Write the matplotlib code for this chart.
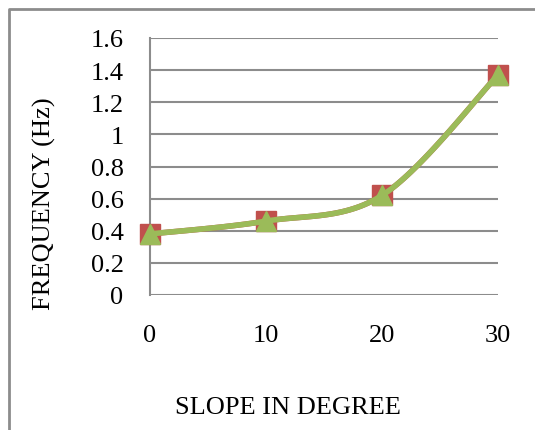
import numpy as np
import matplotlib
matplotlib.use("Agg")
from matplotlib import pyplot as plt
from matplotlib.lines import Line2D

slope = [0, 10, 20, 30]
freq_a = [0.38, 0.46, 0.62, 1.37]
freq_b = [0.38, 0.46, 0.62, 1.37]
yticks = [0, 0.2, 0.4, 0.6, 0.8, 1, 1.2, 1.4, 1.6]
ytick_labels = ['0', '0.2', '0.4', '0.6', '0.8', '1', '1.2', '1.4', '1.6']

def smooth(x, y, n=40):
    # excel style smoothing: catmull-rom bezier between the points
    x = np.asarray(x, float)
    y = np.asarray(y, float)
    px = np.concatenate([[x[0]], x, [x[-1]]])
    py = np.concatenate([[y[0]], y, [y[-1]]])
    xs, ys = [], []
    t = np.linspace(0, 1, n)
    for i in range(1, len(px) - 2):
        p0 = np.array([px[i], py[i]])
        p3 = np.array([px[i + 1], py[i + 1]])
        p1 = p0 + (np.array([px[i + 1], py[i + 1]]) - np.array([px[i - 1], py[i - 1]])) / 6
        p2 = p3 - (np.array([px[i + 2], py[i + 2]]) - np.array([px[i], py[i]])) / 6
        b = ((1 - t) ** 3)[:, None] * p0 + (3 * (1 - t) ** 2 * t)[:, None] * p1 \
            + (3 * (1 - t) * t ** 2)[:, None] * p2 + (t ** 3)[:, None] * p3
        xs.extend(b[:, 0])
        ys.extend(b[:, 1])
    return xs, ys

plt.rcParams['font.family'] = ['Liberation Serif', 'DejaVu Serif']
fs = 19

fig = plt.figure(figsize=(5.35, 4.31), dpi=100)
# chart border, only top and left edges are inside the picture
bx, by = 8.5 / 535, 1 - 9.5 / 431
fig.lines.append(Line2D([bx, bx, 1.1], [-0.1, by, by], transform=fig.transFigure,
                        color='#8c8c8c', linewidth=2))
ax = fig.add_axes([150 / 535, 135 / 431, 348 / 535, 257 / 431])

sx, sy = smooth(slope, freq_a)
ax.plot(sx, sy, color='#c0504d', linewidth=4, zorder=3, clip_on=False)
ax.plot(slope, freq_a, 's', color='#c0504d', markersize=14.5, zorder=4, clip_on=False)
sx, sy = smooth(slope, freq_b)
ax.plot(sx, sy, color='#9bbb59', linewidth=4, zorder=5, clip_on=False)
ax.plot(slope, freq_b, '^', color='#9bbb59', markersize=15, zorder=6, clip_on=False)

ax.set_xlim(0, 30)
ax.set_ylim(0, 1.6)
ax.set_xticks(slope)
ax.set_xticklabels([str(s) for s in slope], fontsize=fs)
ax.set_yticks(yticks)
ax.set_yticklabels(ytick_labels, fontsize=fs)
ax.tick_params(axis='y', length=0, pad=19)
ax.tick_params(axis='x', length=0, pad=21)
ax.grid(axis='y', color='#8c8c8c', linewidth=1.5)
ax.set_axisbelow(True)
for s in ['top', 'right', 'bottom']:
    ax.spines[s].set_visible(False)
ax.spines['left'].set_color('#8c8c8c')
ax.spines['left'].set_linewidth(1.5)
ax.patch.set_alpha(0)

fig.text(288 / 535, 1 - 408 / 431, 'SLOPE IN DEGREE', fontsize=fs,
         ha='center', va='center')
fig.text(44 / 535, 1 - 204 / 431, 'FREQUENCY (Hz)', fontsize=fs,
         ha='center', va='center', rotation=90)

plt.savefig('out.png', dpi=100)
